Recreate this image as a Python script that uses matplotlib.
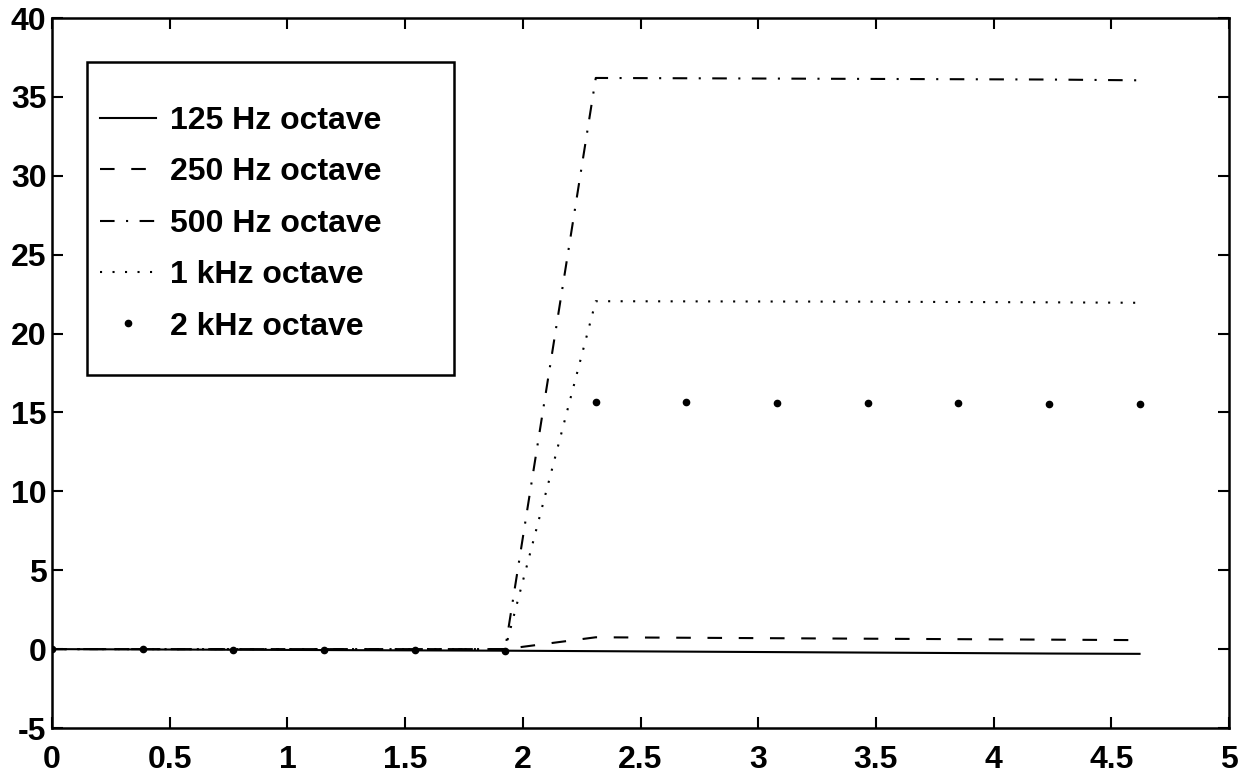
import matplotlib
matplotlib.use("Agg")
import matplotlib.pyplot as plt
from matplotlib.patches import Rectangle

# ---- data ----
x = [0, 0.385, 0.77, 1.155, 1.54, 1.925, 2.31, 2.695, 3.08, 3.465, 3.85, 4.235, 4.62]
hz125 = [0, -0.02, -0.04, -0.06, -0.08, -0.10, -0.13, -0.16, -0.19, -0.22, -0.25, -0.28, -0.30]
hz250 = [0, 0, 0, 0, 0, 0, 0.75, 0.72, 0.69, 0.66, 0.63, 0.60, 0.57]
hz500 = [0, 0, 0, 0, 0, 0, 36.2, 36.18, 36.16, 36.14, 36.12, 36.10, 36.05]
khz1 = [0, 0, 0, 0, 0, 0, 22.05, 22.04, 22.03, 22.02, 22.0, 21.98, 21.95]
khz2 = [0, -0.02, -0.04, -0.06, -0.08, -0.10, 15.65, 15.64, 15.62, 15.60, 15.58, 15.56, 15.52]
labels = ["125 Hz octave", "250 Hz octave", "500 Hz octave", "1 kHz octave", "2 kHz octave"]
xticks = [0, 0.5, 1, 1.5, 2, 2.5, 3, 3.5, 4, 4.5, 5]
yticks = [-5, 0, 5, 10, 15, 20, 25, 30, 35, 40]

plt.rcParams['font.family'] = ['Liberation Sans', 'DejaVu Sans']
plt.rcParams['font.weight'] = 'bold'

fig = plt.figure(figsize=(12.59, 7.78), dpi=100)
ax = fig.add_axes([52/1259, (778-728)/778, (1229-52)/1259, (728-18)/778])

lw = 1.5
l1, = ax.plot(x, hz125, color='black', lw=lw, linestyle='-')
l2, = ax.plot(x, hz250, color='black', lw=lw, linestyle=(0, (7, 8)))
l3, = ax.plot(x, hz500, color='black', lw=lw, linestyle=(0, (7, 5.5, 1, 5.5)))
l4, = ax.plot(x, khz1, color='black', lw=lw, linestyle=(0, (1, 5)))
l5, = ax.plot(x, khz2, color='black', linestyle='none', marker='o', markersize=4.5)

ax.set_xlim(0, 5)
ax.set_ylim(-5, 40)
ax.set_xticks(xticks)
ax.set_yticks(yticks)
ax.set_xticklabels([f"{t:g}" for t in xticks], fontweight='bold')
ax.set_yticklabels([f"{t:g}" for t in yticks], fontweight='bold')
ax.tick_params(direction='in', length=8, width=1.5, top=True, right=True)
ax.tick_params(axis='x', labelsize=23, pad=12)
ax.tick_params(axis='y', labelsize=23, pad=4)
for s in ax.spines.values():
    s.set_linewidth(1.8)

# legend box
rect = Rectangle((87/1259, 1 - 375/778), (454-87)/1259, (375-62)/778,
                 transform=fig.transFigure, fill=False, lw=1.8, edgecolor='black', zorder=5)
fig.patches.append(rect)
leg = fig.legend([l1, l2, l3, l4, l5], labels, loc='upper left',
                 bbox_to_anchor=(100/1259, 1 - 106/778), frameon=False,
                 prop={'size': 23, 'weight': 'bold'}, handlelength=1.75, handletextpad=0.45,
                 labelspacing=0.67, borderaxespad=0, borderpad=0)

fig.savefig("out.png", dpi=100)
